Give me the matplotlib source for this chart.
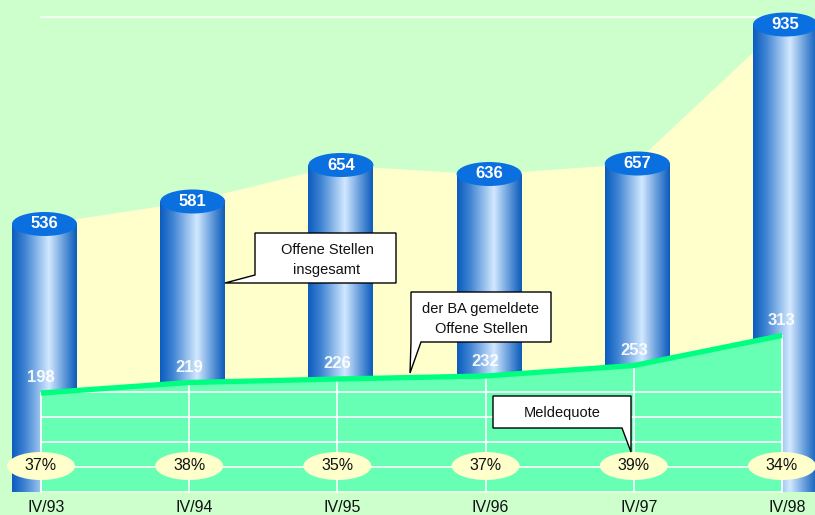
import numpy as np
import matplotlib
matplotlib.use("Agg")
import matplotlib.pyplot as plt
from matplotlib.patches import Ellipse, Polygon
from matplotlib.colors import LinearSegmentedColormap

plt.rcParams['font.family'] = ['Liberation Sans', 'DejaVu Sans']

# ---- data ----
categories = ["IV/93", "IV/94", "IV/95", "IV/96", "IV/97", "IV/98"]
total_open = [536, 581, 654, 636, 657, 935]
ba_reported = [198, 219, 226, 232, 253, 313]
quota_labels = ["37%", "38%", "35%", "37%", "39%", "34%"]
grid_values = [0, 50, 100, 150, 200]
top_grid = 950

W, H = 815, 515
fig = plt.figure(figsize=(W / 100, H / 100), dpi=100)
fig.patch.set_facecolor("#CCFFCC")
ax = fig.add_axes([0, 0, 1, 1])
ax.set_facecolor("#CCFFCC")
ax.axis("off")

x = np.arange(len(categories))
step_px = 148.2
x0_px = 41
xmin, xmax = -x0_px / step_px, (W - x0_px) / step_px
ymin, ymax = -46, 984
px_per_x = step_px
px_per_y = H / (ymax - ymin)

bw = 65 / px_per_x          # bar width in data units
cap_h = 24 / px_per_y       # cylinder top ellipse height
bar_off = 3.5 / px_per_x    # bars sit slightly right of the area points
lab_off = 5 / px_per_x

# yellow area (total)
ax.fill_between(x, 0, total_open, color="#FFFFCC", lw=0, zorder=1)
# top gridline
ax.plot([x[0], x[-1]], [top_grid, top_grid], color="#F0FFF0", lw=1.6, zorder=1.5)

# cylinders
cmap = LinearSegmentedColormap.from_list(
    "cyl", [(0.0, "#0A5CBF"), (0.2, "#3F84D3"), (0.57, "#D2E8FF"),
            (0.82, "#5B95D8"), (1.0, "#0B5BBB")])
grad = np.linspace(0, 1, 256).reshape(1, -1)
for i, v in zip(x, total_open):
    c = i + bar_off
    ax.imshow(grad, cmap=cmap, extent=[c - bw / 2, c + bw / 2, 0, v],
              aspect="auto", interpolation="bicubic", zorder=3)
    ax.add_patch(Ellipse((c, v), bw, cap_h, fc="#0A70E0", ec="none", zorder=3.5))
    ax.text(c, v, str(v), color="white", fontsize=12, fontweight="bold",
            ha="center", va="center", zorder=3.6)

# green area (BA reported)
verts = [(i, 0) for i in x] + [(i, v) for i, v in zip(x[::-1], ba_reported[::-1])]
green = Polygon(verts, closed=True, fc="#66FFB3", ec="none", zorder=4)
ax.add_patch(green)
for g in grid_values:
    ln, = ax.plot([x[0], x[-1]], [g, g], color="white", lw=1.2, zorder=4.5)
    ln.set_clip_path(green)
for i, v in zip(x, ba_reported):
    ax.plot([i, i], [0, v], color="white", lw=1.2, zorder=4.5)
ax.plot(x, ba_reported, color="#00FF80", lw=3.8, zorder=5, solid_capstyle="butt")

for i, v in zip(x, ba_reported):
    ax.text(i, v + 30, str(v), color="white", alpha=0.92, fontsize=12,
            fontweight="bold", ha="center", va="center", zorder=6)

# quota ellipses
for i, q in zip(x, quota_labels):
    ax.add_patch(Ellipse((i, 52), 68 / px_per_x, 28 / px_per_y,
                         fc="#FFFFCC", ec="none", zorder=6))
    ax.text(i, 52, q, color="#111111", fontsize=11.5, ha="center",
            va="center", zorder=7)

# category labels
for i, c in zip(x, categories):
    ax.text(i + lab_off, -30, c, color="#111111", fontsize=11.5, ha="center",
            va="center", zorder=7)

ax.set_xlim(xmin, xmax)
ax.set_ylim(ymin, ymax)

# callouts (pixel layout)
def P(px, py):
    return (px / W, 1 - py / H)

def callout(pts, lines, cx, ys):
    fig.add_artist(Polygon([P(*p) for p in pts], closed=True, fc="white",
                           ec="black", lw=1.0, transform=fig.transFigure, zorder=10))
    for t, yy in zip(lines, ys):
        fx, fy = P(cx, yy)
        fig.text(fx, fy, t, ha="center", va="center", fontsize=10.5,
                 color="#111111", zorder=11)

callout([(255, 233), (396, 233), (396, 283), (225, 283), (255, 275)],
        ["Offene Stellen", "insgesamt"], 327, [250, 270])
callout([(411, 292), (551, 292), (551, 342), (421, 342), (410, 373), (411, 342)],
        ["der BA gemeldete", "Offene Stellen"], 481, [309, 329])
callout([(493, 396), (631, 396), (631, 452), (622, 428), (493, 428)],
        ["Meldequote"], 562, [413])

fig.savefig("out.png", dpi=100, facecolor=fig.get_facecolor())
